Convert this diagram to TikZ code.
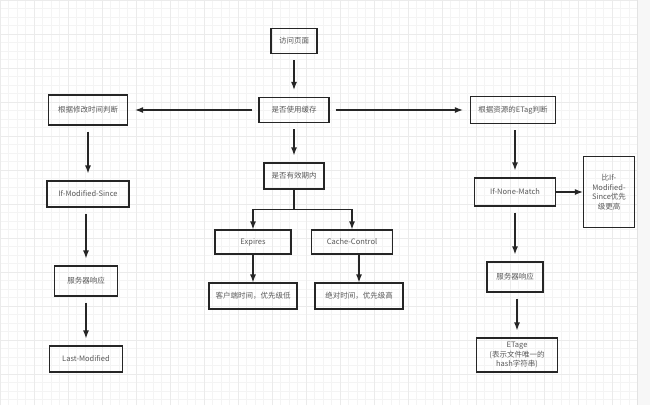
\documentclass[tikz,border=0pt]{standalone}
\usepackage{fontspec}
\setmainfont{Noto Sans CJK SC}
\usetikzlibrary{arrows.meta}
\tikzset{%
  >={Latex[width=6pt,length=8pt]},
  % Specifications for style of nodes:
      base/.style = {rectangle, draw=black!85, line width=1.2pt,
                     inner sep=1pt, text=black!65, align=center,
                     font=\fontsize{7.5}{9.5}\selectfont},
  decision/.style = {base, minimum width=70pt, minimum height=25pt},
    header/.style = {base, minimum width=80pt, minimum height=27pt},
    answer/.style = {base, minimum width=60pt, minimum height=30pt},
      link/.style = {->, line width=1.2pt, black!85,
                     shorten <=6pt, shorten >=7pt},
    branch/.style = {->, line width=1.2pt, black!85},
}

\begin{document}
\begin{tikzpicture}[x=1pt, y=1pt]
  % background grid
  \useasboundingbox (0,0) rectangle (650,-405);
  \fill[white] (0,0) rectangle (650,-405);
  \draw[gray!9, line width=0.4pt, step=8.5pt] (0,0) grid (637,-405);
  \draw[gray!16, line width=0.5pt, step=34pt] (0,0) grid (637,-405);
  \fill[gray!6] (637,0) rectangle (650,-405);
  \draw[gray!22, line width=0.5pt] (637,0) -- (637,-405);
  % Specification of nodes (position, etc.)
  \node (page)    [base, minimum width=46pt, minimum height=25pt] at (294,-41) {访问页面};
  \node (cache)   [decision, below of=page, node distance=69pt]  {是否使用缓存};
  \node (ltime)   [header, minimum width=79pt, minimum height=30pt,
                   left of=cache, node distance=206pt]           {根据修改时间判断};
  \node (etag)    [header, minimum width=85pt,
                   right of=cache, node distance=219pt]          {根据资源的ETag判断};
  \node (valid)   [decision, minimum width=60pt, minimum height=26pt,
                   below of=cache, node distance=66pt]           {是否有效期内};
  \node (expires) [decision, minimum width=76pt, minimum height=24pt,
                   below of=valid, node distance=66pt, xshift=-41pt] {Expires};
  \node (cc)      [decision, minimum width=81pt, minimum height=24pt,
                   below of=valid, node distance=66pt, xshift=58pt]  {Cache-Control};
  \node (client)  [decision, minimum width=88pt, minimum height=26pt,
                   below of=expires, node distance=54pt]         {客户端时间，优先级低};
  \node (abs)     [decision, minimum width=88pt, minimum height=26pt,
                   below of=cc, node distance=54pt, xshift=7pt]  {绝对时间，优先级高};
  \node (ims)     [header, minimum width=82pt, minimum height=26pt,
                   below of=ltime, node distance=84pt]           {If-Modified-Since};
  \node (srv1)    [answer, minimum width=63pt,
                   below of=ims, node distance=87pt, xshift=-2pt] {服务器响应};
  \node (lastmod) [header, minimum width=73pt, minimum height=26pt,
                   below of=srv1, node distance=78pt]            {Last-Modified};
  \node (inm)     [header, minimum width=81pt, minimum height=28pt,
                   below of=etag, node distance=82pt, xshift=2pt] {If-None-Match};
  \node (note)    [base, minimum width=51pt, minimum height=71pt,
                   right of=inm, node distance=94pt]  {比If-\\Modified-\\Since优先\\级更高};
  \node (srv2)    [answer, minimum width=56pt,
                   below of=inm, node distance=85pt]             {服务器响应};
  \node (etage)   [header, minimum width=81pt, minimum height=34pt,
                   below of=srv2, node distance=78pt, xshift=2pt]
                  {ETage\\(表示文件唯一的\\hash字符串)};
  % Specification of lines between nodes specified above
  \draw[link]   (page) -- (cache);
  \draw[link]   (cache) -- (ltime);
  \draw[link]   (cache) -- (etag);
  \draw[link]   (cache) -- (valid);
  \draw (valid.south) [line width=1.2pt, black!85] -- ++(0,-20) coordinate (fork);
  \draw[branch] (fork) -| (expires.north);
  \draw[branch] (fork) -| (cc.north);
  \draw[branch] (expires) -- (client);
  \draw[branch] (abs.north |- cc.south) -- (abs);
  \draw[link]   (ltime) -- (ims);
  \draw[link]   (ims.south -| srv1) -- (srv1);
  \draw[link]   (srv1) -- (lastmod);
  \draw[link]   (etag.south -| inm) -- (inm);
  \draw[branch] (inm) -- (note);
  \draw[link]   (inm) -- (srv2);
  \draw[link]   (srv2.south -| etage) -- (etage);
\end{tikzpicture}
\end{document}
